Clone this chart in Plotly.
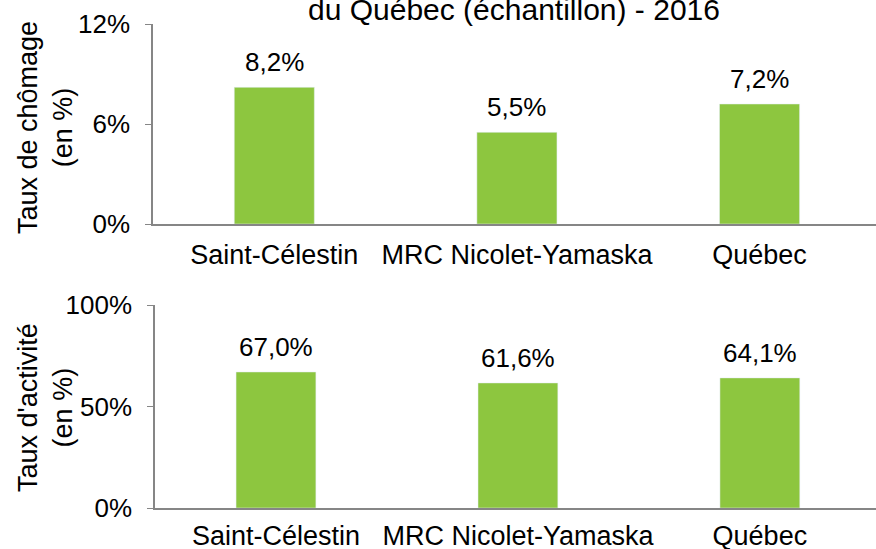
import plotly.graph_objects as go
from plotly.subplots import make_subplots

categories = ["Saint-Célestin", "MRC Nicolet-Yamaska", "Québec"]
chomage = [8.2, 5.5, 7.2]
activite = [67.0, 61.6, 64.1]
title_text = "du Québec (échantillon) - 2016"
ytitle_top = "Taux de chômage<br>(en %)"
ytitle_bottom = "Taux d'activité<br>(en %)"

def fmt(v):
    return f"{v:.1f}".replace(".", ",") + "%"

GREEN = "#8DC63F"
GRAY = "#868686"
FONT = "Liberation Sans"

fig = make_subplots(rows=2, cols=1)

for row, vals in ((1, chomage), (2, activite)):
    fig.add_trace(go.Bar(x=categories, y=vals, marker_color=GREEN, width=0.33,
                         showlegend=False, hoverinfo="skip"), row=row, col=1)
    xref = "x" if row == 1 else "x2"
    yref = "y" if row == 1 else "y2"
    for c, v in zip(categories, vals):
        fig.add_annotation(x=c, y=v, xref=xref, yref=yref, text=fmt(v), showarrow=False,
                           yanchor="bottom", yshift=8,
                           font=dict(size=26, color="black", family=FONT))

common_x = dict(showline=True, linecolor=GRAY, linewidth=1.5, ticks="",
                tickfont=dict(size=27, color="black", family=FONT),
                showgrid=False, range=[-0.5, 2.48], automargin=False)
fig.update_xaxes(**common_x, domain=[153 / 876, 1.0], ticklabelstandoff=6, row=1, col=1)
fig.update_xaxes(**common_x, domain=[155 / 876, 1.0], ticklabelstandoff=3, row=2, col=1)

common_y = dict(showline=True, linecolor=GRAY, linewidth=1.5, ticks="outside",
                ticklen=6, tickcolor=GRAY, showgrid=False, zeroline=False,
                tickfont=dict(size=26, color="black", family=FONT),
                automargin=False, ticklabelstandoff=10)
fig.update_yaxes(**common_y, range=[0, 12], tickvals=[0, 6, 12], ticktext=["0%", "6%", "12%"],
                 domain=[1 - 224 / 549, 1 - 24 / 549], row=1, col=1)
fig.update_yaxes(**common_y, range=[0, 100], tickvals=[0, 50, 100], ticktext=["0%", "50%", "100%"],
                 domain=[1 - 508 / 549, 1 - 305 / 549], row=2, col=1)

fig.add_annotation(text=ytitle_top, xref="paper", yref="paper", x=45 / 876, y=1 - 128 / 549,
                   textangle=-90, showarrow=False, font=dict(size=27, color="black", family=FONT),
                   xanchor="center", yanchor="middle")
fig.add_annotation(text=ytitle_bottom, xref="paper", yref="paper", x=45 / 876, y=1 - 408 / 549,
                   textangle=-90, showarrow=False, font=dict(size=27, color="black", family=FONT),
                   xanchor="center", yanchor="middle")
fig.add_annotation(text=title_text, xref="paper", yref="paper", x=514 / 876, y=1 - 9 / 549,
                   showarrow=False, font=dict(size=30, color="black", family=FONT),
                   xanchor="center", yanchor="middle")

fig.update_layout(width=876, height=549, margin=dict(l=0, r=0, t=0, b=0),
                  plot_bgcolor="white", paper_bgcolor="white", hovermode=False)

fig.write_html("out.html", config={"displayModeBar": False},
               post_script="document.body.style.margin='0';document.body.style.overflow='hidden';")
